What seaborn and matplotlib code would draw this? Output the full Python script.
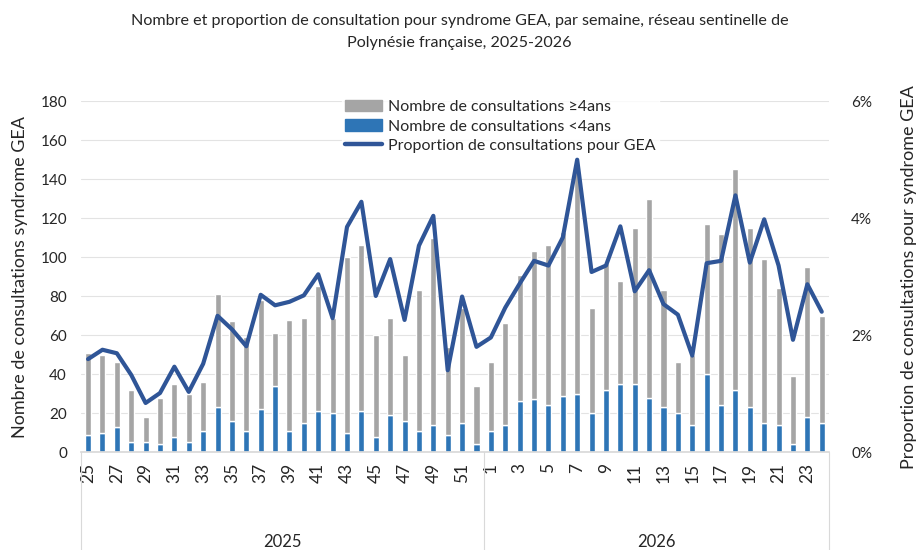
import numpy as np
import matplotlib
matplotlib.use("Agg")
import matplotlib.pyplot as plt
import matplotlib.transforms as mtransforms
from matplotlib.patches import Patch
from matplotlib.lines import Line2D
from matplotlib.ticker import FuncFormatter
import seaborn as sns

# Weekly data, weeks 25-52 of 2025 then 1-24 of 2026
weeks = list(range(25, 53)) + list(range(1, 25))
years = ["2025", "2026"]
n_2025 = 28

# Number of consultations <4 years
moins4 = [9, 10, 13, 5, 5, 4, 8, 5, 11, 23, 16, 11, 22, 34, 11, 15, 21, 20, 10, 21,
          8, 19, 16, 11, 14, 9, 15, 4,
          11, 14, 26, 27, 24, 29, 30, 20, 32, 35, 35, 28, 23, 20, 14, 40, 24, 32,
          23, 15, 14, 4, 18, 15]

# Number of consultations >=4 years
plus4 = [42, 40, 33, 27, 13, 24, 27, 25, 25, 58, 51, 48, 56, 27, 57, 54, 64, 49, 90, 85,
         52, 50, 34, 72, 96, 45, 59, 30,
         35, 52, 65, 76, 82, 84, 118, 54, 65, 53, 80, 102, 60, 26, 36, 77, 88, 113,
         92, 84, 70, 35, 77, 55]

# Proportion of consultations for GEA (%)
proportion = [1.59, 1.75, 1.69, 1.32, 0.84, 1.01, 1.46, 1.03, 1.51, 2.33, 2.10, 1.81,
              2.69, 2.51, 2.57, 2.68, 3.04, 2.29, 3.85, 4.28, 2.67, 3.30, 2.26, 3.53,
              4.04, 1.40, 2.66, 1.80,
              1.96, 2.47, 2.88, 3.27, 3.19, 3.67, 5.00, 3.08, 3.19, 3.86, 2.75, 3.11,
              2.53, 2.35, 1.65, 3.23, 3.27, 4.39, 3.24, 3.98, 3.19, 1.92, 2.87, 2.40]

lab_plus4 = "Nombre de consultations ≥4ans"
lab_moins4 = "Nombre de consultations <4ans"
lab_prop = "Proportion de consultations pour GEA"

grey = "#A5A5A5"
blue = "#2E75B6"
dark = "#2F5597"

sns.set_theme(style="white")
plt.rcParams['font.family'] = ['Lato', 'DejaVu Sans']
plt.rcParams['text.color'] = '#262626'

pos = np.arange(len(weeks))

fig = plt.figure(figsize=(9.19, 5.5), dpi=100)
ax = fig.add_axes([0.088, 0.178, 0.814, 0.638])

sns.barplot(x=pos, y=moins4, color=blue, width=0.42, saturation=1, ax=ax)
sns.barplot(x=pos, y=plus4, bottom=moins4, color=grey, width=0.42, saturation=1, ax=ax)

ax.set_ylim(0, 180)
ax.set_yticks(range(0, 181, 20))
ax.set_xlim(-0.5, len(weeks) - 0.5)
ax.yaxis.grid(True, color="#E3E3E3", lw=0.8)
ax.set_axisbelow(True)
for s in ["top", "right", "left"]:
    ax.spines[s].set_visible(False)
ax.spines["bottom"].set_color("#D9D9D9")
ax.set_xticks(pos[::2])
ax.set_xticklabels([str(w) for w in weeks[::2]], rotation=90, fontsize=12.5)
ax.tick_params(axis="x", length=0, pad=8)
ax.tick_params(axis="y", length=0, pad=10, labelsize=11)
ax.set_xlabel("")
ax.set_ylabel("Nombre de consultations syndrome GEA", fontsize=13, labelpad=9)

# secondary axis: proportion
ax2 = ax.twinx()
sns.lineplot(x=pos, y=proportion, color=dark, lw=3, ax=ax2)
ax2.set_ylim(0, 6)
ax2.set_yticks([0, 2, 4, 6])
ax2.yaxis.set_major_formatter(FuncFormatter(lambda v, p: f"{v:.0f}%"))
ax2.tick_params(axis="y", length=0, pad=16, labelsize=11)
ax2.set_ylabel("Proportion de consultations pour syndrome GEA", fontsize=13, labelpad=21)
for s in ax2.spines.values():
    s.set_visible(False)
ax2.grid(False)

# multi-level year axis
tr = mtransforms.blended_transform_factory(ax.transData, ax.transAxes)
for xb in [-0.5, n_2025 - 0.5, len(weeks) - 0.5]:
    ax.plot([xb, xb], [0, -0.3], color="#D9D9D9", lw=0.8, transform=tr, clip_on=False)
ax.text((n_2025 - 1) / 2, -0.255, years[0], transform=tr, ha="center", va="center", fontsize=12)
ax.text((n_2025 + len(weeks) - 1) / 2, -0.255, years[1], transform=tr, ha="center", va="center", fontsize=12)

handles = [Patch(color=grey), Patch(color=blue), Line2D([], [], color=dark, lw=3.2)]
leg = ax2.legend(handles, [lab_plus4, lab_moins4, lab_prop], loc="upper left",
                 bbox_to_anchor=(0.338, 1.035), frameon=True, fontsize=11.5,
                 handlelength=2.3, handleheight=0.7, labelspacing=0.32,
                 handletextpad=0.4, borderpad=0.2)
leg.get_frame().set_facecolor("white")
leg.get_frame().set_edgecolor("white")

fig.suptitle("Nombre et proportion de consultation pour syndrome GEA, par semaine, réseau sentinelle de\n"
             "Polynésie française, 2025-2026", y=0.975, va="top", fontsize=11.6,
             linespacing=1.75)

fig.savefig("out.png", dpi=100)
